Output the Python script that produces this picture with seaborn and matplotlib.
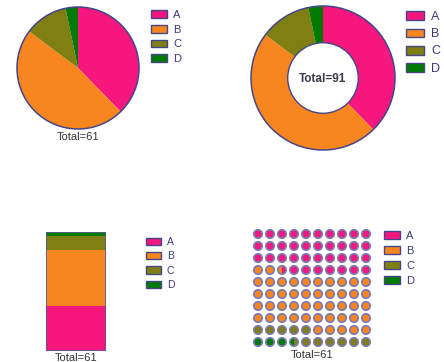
import numpy as np
import seaborn as sns
import matplotlib.pyplot as plt
from matplotlib.patches import Circle, Wedge, Patch

# data
labels = ['A', 'B', 'C', 'D']
values = [23, 29, 7, 2]
colors = ['#f5167e', '#f8861f', '#7f7f12', '#027a02']
donut_label = 'Total=91'

sns.set_style('white')
plt.rcParams['font.family'] = ['Liberation Sans', 'DejaVu Sans']

W, H = 444, 362
fig = plt.figure(figsize=(W / 100, H / 100), dpi=100)

edge = '#45458a'
txt = '#333333'
leg_txt = '#3b3b7a'
total = sum(values)


def px_axes(left, top, w, h):
    ax = fig.add_axes([left / W, 1 - (top + h) / H, w / W, h / H])
    ax.set_axis_off()
    return ax


def px_legend(ax, x, y, fs, spacing):
    handles = [Patch(facecolor=c, edgecolor=edge, linewidth=1.0, label=l)
               for c, l in zip(colors, labels)]
    ax.legend(handles=handles, loc='upper left', bbox_to_anchor=(x / W, 1 - y / H),
              bbox_transform=fig.transFigure, frameon=False, fontsize=fs,
              handlelength=1.4, handleheight=0.7, handletextpad=0.6,
              labelspacing=spacing, borderpad=0, borderaxespad=0, labelcolor=leg_txt)


# pie
ax1 = px_axes(17, 7, 122, 122)
ax1.pie(values, colors=colors, startangle=90, counterclock=False,
        wedgeprops=dict(linewidth=0))
ax1.add_patch(Circle((0, 0), 1, fill=False, ec=edge, lw=1.1, clip_on=False))
ax1.set_xlim(-1, 1)
ax1.set_ylim(-1, 1)
ax1.text(0, -1.05, f'Total={total}', ha='center', va='top', fontsize=8, color=txt)
px_legend(ax1, 151, 10, 8, 0.42)

# donut
ax2 = px_axes(251, 6, 144, 144)
ax2.pie(values, colors=colors, startangle=90, counterclock=False,
        wedgeprops=dict(linewidth=0, width=0.51))
ax2.add_patch(Circle((0, 0), 1, fill=False, ec=edge, lw=1.1, clip_on=False))
ax2.add_patch(Circle((0, 0), 0.49, fill=False, ec=edge, lw=1.0))
ax2.set_xlim(-1, 1)
ax2.set_ylim(-1, 1)
ax2.text(0, -0.02, donut_label, ha='center', va='center', fontsize=8.5,
         fontweight='bold', color='#3a3a48')
px_legend(ax2, 406, 11, 9, 0.42)

# stacked bar
ax3 = px_axes(46, 232, 60, 119)
cum = np.cumsum(values)
for i in range(len(values) - 1, -1, -1):
    sns.barplot(x=['Total'], y=[cum[i]], color=colors[i], saturation=1,
                width=0.8, linewidth=0, ax=ax3)
sns.barplot(x=['Total'], y=[total], fill=False, color='#5a5a9a', width=0.8,
            linewidth=1.2, ax=ax3)
ax3.set_xlim(-0.4, 0.4)
ax3.set_ylim(0, total)
ax3.set_axis_off()
ax3.text(0, -1, f'Total={total}', ha='center', va='top', fontsize=8, color=txt)
px_legend(ax3, 146, 237, 7.5, 0.42)

# waffle
ax4 = px_axes(252, 228, 120, 120)
order = [3, 2, 1, 0]  # D, C, B, A from bottom-left
bounds = np.round(np.cumsum([values[i] for i in order]) / total * 100 * 2) / 2
r = 0.35
ring = '#7a7ab0'
for k in range(100):
    row, col = divmod(k, 10)
    cx, cy = col + 0.5, row + 0.5
    j = int(np.searchsorted(bounds, k, side='right'))
    c_main = colors[order[min(j, 3)]]
    if k < bounds[min(j, 3)] < k + 1:
        c_next = colors[order[min(j + 1, 3)]]
        ax4.add_patch(Wedge((cx, cy), r, 270, 90, fc=c_next, lw=0))
        ax4.add_patch(Wedge((cx, cy), r, 90, 270, fc=c_main, lw=0))
        ax4.add_patch(Circle((cx, cy), r, fill=False, ec=ring, lw=1.2))
    else:
        ax4.add_patch(Circle((cx, cy), r, fc=c_main, ec=ring, lw=1.2))
ax4.set_xlim(0, 10)
ax4.set_ylim(0, 10)
ax4.text(5, -0.2, f'Total={total}', ha='center', va='top', fontsize=8, color=txt)
px_legend(ax4, 384, 231, 8, 0.45)

fig.savefig('out.png', dpi=100)
